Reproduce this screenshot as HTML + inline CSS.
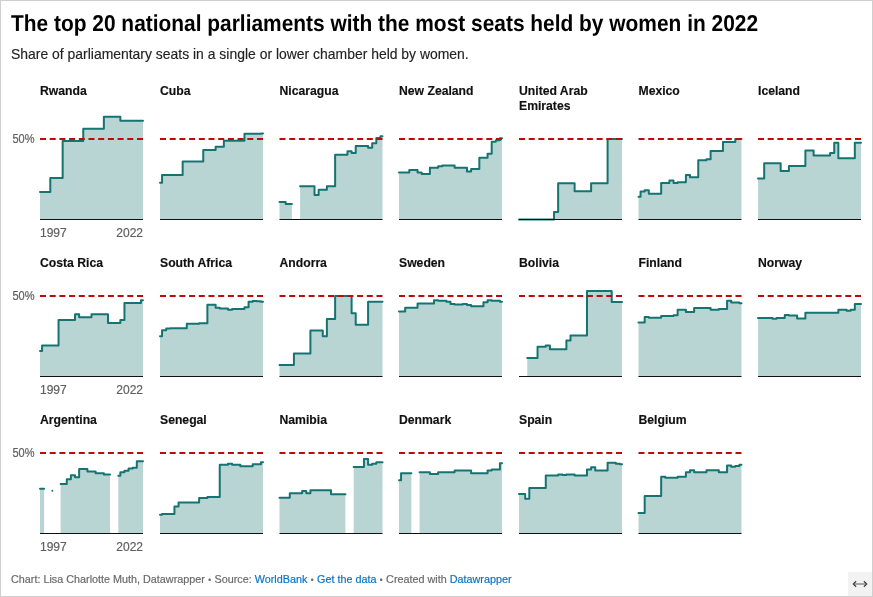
<!DOCTYPE html>
<html><head><meta charset="utf-8"><title>The top 20 national parliaments with the most seats held by women in 2022</title>
<style>
html,body{margin:0;padding:0;background:#fff}
body{width:873px;height:597px;position:relative;overflow:hidden;font-family:"Liberation Sans",sans-serif;color:#000}
.frame{position:absolute;left:0;top:0;width:871px;height:595px;border:1px solid #cfcfcf}
h1{position:absolute;left:11px;top:10px;margin:0;font-size:23px;line-height:26px;font-weight:700;white-space:nowrap;letter-spacing:0;transform-origin:0 0;transform:scale(0.909,1) skewX(0.05deg);color:#000}
.sub{position:absolute;left:11px;top:45px;font-size:14.5px;line-height:18px;white-space:nowrap;color:#222;-webkit-text-stroke:0.15px;transform-origin:0 0;transform:scaleX(0.961)}
svg{position:absolute;left:0;top:0}
.pt{position:absolute;font-size:12.2px;line-height:15px;font-weight:700;white-space:nowrap;color:#111;-webkit-text-stroke:0.15px}
.ax{position:absolute;font-size:12px;line-height:16px;color:#606060;-webkit-text-stroke:0.2px;white-space:nowrap}
.yl{left:0;width:34.6px;text-align:right;transform-origin:100% 50%;transform:scaleX(0.92)}
.foot{position:absolute;left:11px;top:571px;font-size:11.3px;line-height:16px;color:#6a6a6a;-webkit-text-stroke:0.2px;white-space:nowrap;transform-origin:0 0;transform:scaleX(0.956)}
.foot a{color:#0a74c4;text-decoration:none}
.foot b{display:inline-block;width:3.8px;text-align:center;font-size:8.5px;font-weight:400;vertical-align:0.4px}
.rs{position:absolute;left:848px;top:572px;width:24px;height:24px;background:#f2f2f2}
</style></head><body>
<div class="frame"></div>
<h1>The top 20 national parliaments with the most seats held by women in 2022</h1>
<div class="sub">Share of parliamentary seats in a single or lower chamber held by women.</div>
<svg width="873" height="597" viewBox="0 0 873 597">
<path d="M40,191.97H50.3V178.12H62.66V140.93H83.26V128.86H103.86V116.78H120.34V120.81H143V219.5H40Z" fill="#157472" fill-opacity="0.3"/>
<path d="M40,191.97H50.3V178.12H62.66V140.93H83.26V128.86H103.86V116.78H120.34V120.81H143" fill="none" stroke="#157472" stroke-width="2" stroke-linejoin="round" stroke-linecap="round"/>
<rect x="40" y="219" width="103" height="1" fill="#111"/>
<line x1="40" x2="143" y1="139" y2="139" stroke="#bd0a0a" stroke-width="2" stroke-dasharray="6 3.7"/>
<path d="M160,182.79H162.06V175.06H182.66V161.54H203.26V149.95H215.62V146.73H223.86V140.77H244.46V133.85H260.94V133.53H263V219.5H160Z" fill="#157472" fill-opacity="0.3"/>
<path d="M160,182.79H162.06V175.06H182.66V161.54H203.26V149.95H215.62V146.73H223.86V140.77H244.46V133.85H260.94V133.53H263" fill="none" stroke="#157472" stroke-width="2" stroke-linejoin="round" stroke-linecap="round"/>
<rect x="160" y="219" width="103" height="1" fill="#111"/>
<line x1="160" x2="263" y1="139" y2="139" stroke="#bd0a0a" stroke-width="2" stroke-dasharray="6 3.7"/>
<path d="M279.5,202.11H285.68V203.88H291.86V219.5H279.5Z" fill="#157472" fill-opacity="0.3"/>
<path d="M279.5,202.11H285.68V203.88H291.86" fill="none" stroke="#157472" stroke-width="2" stroke-linejoin="round" stroke-linecap="round"/>
<path d="M300.1,186.17H314.52V195.03H318.64V189.72H326.88V186.17H335.12V154.78H347.48V151.24H351.6V153.01H355.72V145.92H368.08V147.69H372.2V143.35H376.32V138.03H380.44V136.26H382.5V219.5H300.1Z" fill="#157472" fill-opacity="0.3"/>
<path d="M300.1,186.17H314.52V195.03H318.64V189.72H326.88V186.17H335.12V154.78H347.48V151.24H351.6V153.01H355.72V145.92H368.08V147.69H372.2V143.35H376.32V138.03H380.44V136.26H382.5" fill="none" stroke="#157472" stroke-width="2" stroke-linejoin="round" stroke-linecap="round"/>
<rect x="279.5" y="219" width="103" height="1" fill="#111"/>
<line x1="279.5" x2="382.5" y1="139" y2="139" stroke="#bd0a0a" stroke-width="2" stroke-dasharray="6 3.7"/>
<path d="M399,172.49H409.3V169.91H417.54V172.49H421.66V173.94H429.9V167.66H438.14V166.21H442.26V165.4H454.62V167.66H466.98V171.52H471.1V168.95H479.34V157.84H487.58V153.81H491.7V141.74H495.82V140.29H499.94V138.36H502V219.5H399Z" fill="#157472" fill-opacity="0.3"/>
<path d="M399,172.49H409.3V169.91H417.54V172.49H421.66V173.94H429.9V167.66H438.14V166.21H442.26V165.4H454.62V167.66H466.98V171.52H471.1V168.95H479.34V157.84H487.58V153.81H491.7V141.74H495.82V140.29H499.94V138.36H502" fill="none" stroke="#157472" stroke-width="2" stroke-linejoin="round" stroke-linecap="round"/>
<rect x="399" y="219" width="103" height="1" fill="#111"/>
<line x1="399" x2="502" y1="139" y2="139" stroke="#bd0a0a" stroke-width="2" stroke-dasharray="6 3.7"/>
<path d="M519,219.5H554.02V212.09H558.14V183.28H574.62V191.32H591.1V183.28H607.58V139H622V219.5H519Z" fill="#157472" fill-opacity="0.3"/>
<path d="M519,219.5H554.02V212.09H558.14V183.28H574.62V191.32H591.1V183.28H607.58V139H622" fill="none" stroke="#157472" stroke-width="2" stroke-linejoin="round" stroke-linecap="round"/>
<rect x="519" y="219" width="103" height="1" fill="#111"/>
<line x1="519" x2="622" y1="139" y2="139" stroke="#bd0a0a" stroke-width="2" stroke-dasharray="6 3.7"/>
<path d="M638.5,196.64H640.56V191.49H644.68V190.2H648.8V193.74H661.16V183.11H669.4V180.54H673.52V183.11H677.64V182.15H685.88V175.06H690V177.32H698.24V160.25H706.48V159.29H710.6V151.07H722.96V141.9H735.32V139H741.5V219.5H638.5Z" fill="#157472" fill-opacity="0.3"/>
<path d="M638.5,196.64H640.56V191.49H644.68V190.2H648.8V193.74H661.16V183.11H669.4V180.54H673.52V183.11H677.64V182.15H685.88V175.06H690V177.32H698.24V160.25H706.48V159.29H710.6V151.07H722.96V141.9H735.32V139H741.5" fill="none" stroke="#157472" stroke-width="2" stroke-linejoin="round" stroke-linecap="round"/>
<rect x="638.5" y="219" width="103" height="1" fill="#111"/>
<line x1="638.5" x2="741.5" y1="139" y2="139" stroke="#bd0a0a" stroke-width="2" stroke-dasharray="6 3.7"/>
<path d="M758,178.61H764.18V163.31H780.66V170.88H788.9V165.89H805.38V150.43H813.62V155.58H830.1V153.01H834.22V142.86H838.34V158.16H854.82V142.86H861V219.5H758Z" fill="#157472" fill-opacity="0.3"/>
<path d="M758,178.61H764.18V163.31H780.66V170.88H788.9V165.89H805.38V150.43H813.62V155.58H830.1V153.01H834.22V142.86H838.34V158.16H854.82V142.86H861" fill="none" stroke="#157472" stroke-width="2" stroke-linejoin="round" stroke-linecap="round"/>
<rect x="758" y="219" width="103" height="1" fill="#111"/>
<line x1="758" x2="861" y1="139" y2="139" stroke="#bd0a0a" stroke-width="2" stroke-dasharray="6 3.7"/>
<path d="M40,351.06H42.06V345.43H58.54V319.99H75.02V314.35H79.14V317.25H91.5V314.35H107.98V322.89H120.34V319.99H124.46V303.08H140.94V300.19H143V376.5H40Z" fill="#157472" fill-opacity="0.3"/>
<path d="M40,351.06H42.06V345.43H58.54V319.99H75.02V314.35H79.14V317.25H91.5V314.35H107.98V322.89H120.34V319.99H124.46V303.08H140.94V300.19H143" fill="none" stroke="#157472" stroke-width="2" stroke-linejoin="round" stroke-linecap="round"/>
<rect x="40" y="376" width="103" height="1" fill="#111"/>
<line x1="40" x2="143" y1="296" y2="296" stroke="#bd0a0a" stroke-width="2" stroke-dasharray="6 3.7"/>
<path d="M160,336.25H162.06V330.13H166.18V328.52H170.3V328.2H186.78V323.69H199.14V323.37H207.38V304.86H215.62V307.75H219.74V308.4H227.98V309.69H232.1V308.88H244.46V307.27H248.58V301.8H252.7V300.99H256.82V301.31H260.94V301.8H263V376.5H160Z" fill="#157472" fill-opacity="0.3"/>
<path d="M160,336.25H162.06V330.13H166.18V328.52H170.3V328.2H186.78V323.69H199.14V323.37H207.38V304.86H215.62V307.75H219.74V308.4H227.98V309.69H232.1V308.88H244.46V307.27H248.58V301.8H252.7V300.99H256.82V301.31H260.94V301.8H263" fill="none" stroke="#157472" stroke-width="2" stroke-linejoin="round" stroke-linecap="round"/>
<rect x="160" y="376" width="103" height="1" fill="#111"/>
<line x1="160" x2="263" y1="296" y2="296" stroke="#bd0a0a" stroke-width="2" stroke-dasharray="6 3.7"/>
<path d="M279.5,365.07H293.92V353.48H310.4V330.45H322.76V336.25H326.88V319.02H335.12V296H351.6V313.23H355.72V324.82H368.08V301.8H382.5V376.5H279.5Z" fill="#157472" fill-opacity="0.3"/>
<path d="M279.5,365.07H293.92V353.48H310.4V330.45H322.76V336.25H326.88V319.02H335.12V296H351.6V313.23H355.72V324.82H368.08V301.8H382.5" fill="none" stroke="#157472" stroke-width="2" stroke-linejoin="round" stroke-linecap="round"/>
<rect x="279.5" y="376" width="103" height="1" fill="#111"/>
<line x1="279.5" x2="382.5" y1="296" y2="296" stroke="#bd0a0a" stroke-width="2" stroke-dasharray="6 3.7"/>
<path d="M399,311.46H405.18V307.75H417.54V303.57H434.02V300.35H438.14V300.83H446.38V301.8H450.5V304.05H454.62V304.53H462.86V304.05H466.98V305.02H471.1V306.3H483.46V302.28H487.58V300.35H491.7V300.83H499.94V301.8H502V376.5H399Z" fill="#157472" fill-opacity="0.3"/>
<path d="M399,311.46H405.18V307.75H417.54V303.57H434.02V300.35H438.14V300.83H446.38V301.8H450.5V304.05H454.62V304.53H462.86V304.05H466.98V305.02H471.1V306.3H483.46V302.28H487.58V300.35H491.7V300.83H499.94V301.8H502" fill="none" stroke="#157472" stroke-width="2" stroke-linejoin="round" stroke-linecap="round"/>
<rect x="399" y="376" width="103" height="1" fill="#111"/>
<line x1="399" x2="502" y1="296" y2="296" stroke="#bd0a0a" stroke-width="2" stroke-dasharray="6 3.7"/>
<path d="M527.24,357.99H537.54V346.71H545.78V345.59H549.9V349.29H566.38V340.6H570.5V335.61H586.98V291.01H611.7V302.12H622V376.5H527.24Z" fill="#157472" fill-opacity="0.3"/>
<path d="M527.24,357.99H537.54V346.71H545.78V345.59H549.9V349.29H566.38V340.6H570.5V335.61H586.98V291.01H611.7V302.12H622" fill="none" stroke="#157472" stroke-width="2" stroke-linejoin="round" stroke-linecap="round"/>
<rect x="519" y="376" width="103" height="1" fill="#111"/>
<line x1="519" x2="622" y1="296" y2="296" stroke="#bd0a0a" stroke-width="2" stroke-dasharray="6 3.7"/>
<path d="M638.5,322.56H644.68V316.93H648.8V317.74H661.16V316.12H673.52V315.32H677.64V309.69H685.88V312.1H694.12V308.07H710.6V309.69H718.84V308.88H727.08V300.83H731.2V302.44H739.44V303.25H741.5V376.5H638.5Z" fill="#157472" fill-opacity="0.3"/>
<path d="M638.5,322.56H644.68V316.93H648.8V317.74H661.16V316.12H673.52V315.32H677.64V309.69H685.88V312.1H694.12V308.07H710.6V309.69H718.84V308.88H727.08V300.83H731.2V302.44H739.44V303.25H741.5" fill="none" stroke="#157472" stroke-width="2" stroke-linejoin="round" stroke-linecap="round"/>
<rect x="638.5" y="376" width="103" height="1" fill="#111"/>
<line x1="638.5" x2="741.5" y1="296" y2="296" stroke="#bd0a0a" stroke-width="2" stroke-dasharray="6 3.7"/>
<path d="M758,317.9H772.42V318.86H776.54V317.9H784.78V315H788.9V315.48H797.14V318.38H805.38V312.74H838.34V309.85H846.58V310.81H850.7V309.85H854.82V304.05H861V376.5H758Z" fill="#157472" fill-opacity="0.3"/>
<path d="M758,317.9H772.42V318.86H776.54V317.9H784.78V315H788.9V315.48H797.14V318.38H805.38V312.74H838.34V309.85H846.58V310.81H850.7V309.85H854.82V304.05H861" fill="none" stroke="#157472" stroke-width="2" stroke-linejoin="round" stroke-linecap="round"/>
<rect x="758" y="376" width="103" height="1" fill="#111"/>
<line x1="758" x2="861" y1="296" y2="296" stroke="#bd0a0a" stroke-width="2" stroke-dasharray="6 3.7"/>
<path d="M40,488.74H44.12V533.5H40Z" fill="#157472" fill-opacity="0.3"/>
<path d="M40,488.74H44.12" fill="none" stroke="#157472" stroke-width="2" stroke-linejoin="round" stroke-linecap="round"/>
<circle cx="52.36" cy="490.83" r="1" fill="#157472"/>
<path d="M60.6,484.07H66.78V479.24H70.9V475.22H75.02V477.15H79.14V469.1H87.38V471.51H95.62V473.29H103.86V474.57H110.04V533.5H60.6Z" fill="#157472" fill-opacity="0.3"/>
<path d="M60.6,484.07H66.78V479.24H70.9V475.22H75.02V477.15H79.14V469.1H87.38V471.51H95.62V473.29H103.86V474.57H110.04" fill="none" stroke="#157472" stroke-width="2" stroke-linejoin="round" stroke-linecap="round"/>
<path d="M118.28,475.86H120.34V472.16H124.46V470.87H128.58V468.62H132.7V467.65H136.82V461.37H143V533.5H118.28Z" fill="#157472" fill-opacity="0.3"/>
<path d="M118.28,475.86H120.34V472.16H124.46V470.87H128.58V468.62H132.7V467.65H136.82V461.37H143" fill="none" stroke="#157472" stroke-width="2" stroke-linejoin="round" stroke-linecap="round"/>
<rect x="40" y="533" width="103" height="1" fill="#111"/>
<line x1="40" x2="143" y1="453" y2="453" stroke="#bd0a0a" stroke-width="2" stroke-dasharray="6 3.7"/>
<path d="M160,514.66H162.06V514.02H174.42V506.61H178.54V502.59H199.14V498.08H207.38V496.95H219.74V464.75H227.98V463.79H232.1V464.75H240.34V466.2H252.7V464.27H260.94V462.34H263V533.5H160Z" fill="#157472" fill-opacity="0.3"/>
<path d="M160,514.66H162.06V514.02H174.42V506.61H178.54V502.59H199.14V498.08H207.38V496.95H219.74V464.75H227.98V463.79H232.1V464.75H240.34V466.2H252.7V464.27H260.94V462.34H263" fill="none" stroke="#157472" stroke-width="2" stroke-linejoin="round" stroke-linecap="round"/>
<rect x="160" y="533" width="103" height="1" fill="#111"/>
<line x1="160" x2="263" y1="453" y2="453" stroke="#bd0a0a" stroke-width="2" stroke-dasharray="6 3.7"/>
<path d="M279.5,497.76H289.8V493.25H302.16V491H306.28V493.25H310.4V490.19H331V494.22H345.42V533.5H279.5Z" fill="#157472" fill-opacity="0.3"/>
<path d="M279.5,497.76H289.8V493.25H302.16V491H306.28V493.25H310.4V490.19H331V494.22H345.42" fill="none" stroke="#157472" stroke-width="2" stroke-linejoin="round" stroke-linecap="round"/>
<path d="M353.66,467.01H363.96V459.12H368.08V464.75H372.2V463.79H376.32V462.34H382.5V533.5H353.66Z" fill="#157472" fill-opacity="0.3"/>
<path d="M353.66,467.01H363.96V459.12H368.08V464.75H372.2V463.79H376.32V462.34H382.5" fill="none" stroke="#157472" stroke-width="2" stroke-linejoin="round" stroke-linecap="round"/>
<rect x="279.5" y="533" width="103" height="1" fill="#111"/>
<line x1="279.5" x2="382.5" y1="453" y2="453" stroke="#bd0a0a" stroke-width="2" stroke-dasharray="6 3.7"/>
<path d="M399,480.37H401.06V473.29H411.36V533.5H399Z" fill="#157472" fill-opacity="0.3"/>
<path d="M399,480.37H401.06V473.29H411.36" fill="none" stroke="#157472" stroke-width="2" stroke-linejoin="round" stroke-linecap="round"/>
<path d="M419.6,472.32H429.9V474.09H438.14V472.32H454.62V470.55H471.1V473.29H487.58V470.55H491.7V469.58H499.94V463.3H502V533.5H419.6Z" fill="#157472" fill-opacity="0.3"/>
<path d="M419.6,472.32H429.9V474.09H438.14V472.32H454.62V470.55H471.1V473.29H487.58V470.55H491.7V469.58H499.94V463.3H502" fill="none" stroke="#157472" stroke-width="2" stroke-linejoin="round" stroke-linecap="round"/>
<rect x="399" y="533" width="103" height="1" fill="#111"/>
<line x1="399" x2="502" y1="453" y2="453" stroke="#bd0a0a" stroke-width="2" stroke-dasharray="6 3.7"/>
<path d="M519,493.89H525.18V498.72H529.3V487.94H545.78V475.54H558.14V474.57H562.26V475.06H566.38V474.57H574.62V475.54H586.98V469.58H591.1V467.33H595.22V470.55H607.58V462.66H615.82V463.63H619.94V464.27H622V533.5H519Z" fill="#157472" fill-opacity="0.3"/>
<path d="M519,493.89H525.18V498.72H529.3V487.94H545.78V475.54H558.14V474.57H562.26V475.06H566.38V474.57H574.62V475.54H586.98V469.58H591.1V467.33H595.22V470.55H607.58V462.66H615.82V463.63H619.94V464.27H622" fill="none" stroke="#157472" stroke-width="2" stroke-linejoin="round" stroke-linecap="round"/>
<rect x="519" y="533" width="103" height="1" fill="#111"/>
<line x1="519" x2="622" y1="453" y2="453" stroke="#bd0a0a" stroke-width="2" stroke-dasharray="6 3.7"/>
<path d="M638.5,513.05H644.68V495.99H661.16V476.67H665.28V477.63H677.64V476.67H685.88V472.32H690V470.23H694.12V472.32H706.48V470.23H718.84V472.32H727.08V465.56H731.2V466.69H735.32V465.88H739.44V464.75H741.5V533.5H638.5Z" fill="#157472" fill-opacity="0.3"/>
<path d="M638.5,513.05H644.68V495.99H661.16V476.67H665.28V477.63H677.64V476.67H685.88V472.32H690V470.23H694.12V472.32H706.48V470.23H718.84V472.32H727.08V465.56H731.2V466.69H735.32V465.88H739.44V464.75H741.5" fill="none" stroke="#157472" stroke-width="2" stroke-linejoin="round" stroke-linecap="round"/>
<rect x="638.5" y="533" width="103" height="1" fill="#111"/>
<line x1="638.5" x2="741.5" y1="453" y2="453" stroke="#bd0a0a" stroke-width="2" stroke-dasharray="6 3.7"/>
</svg>
<div class="pt" style="left:40px;top:84px">Rwanda</div>
<div class="pt" style="left:160px;top:84px">Cuba</div>
<div class="pt" style="left:279.5px;top:84px">Nicaragua</div>
<div class="pt" style="left:399px;top:84px">New Zealand</div>
<div class="pt" style="left:519px;top:84px">United Arab<br>Emirates</div>
<div class="pt" style="left:638.5px;top:84px">Mexico</div>
<div class="pt" style="left:758px;top:84px">Iceland</div>
<div class="pt" style="left:40px;top:256px">Costa Rica</div>
<div class="pt" style="left:160px;top:256px">South Africa</div>
<div class="pt" style="left:279.5px;top:256px">Andorra</div>
<div class="pt" style="left:399px;top:256px">Sweden</div>
<div class="pt" style="left:519px;top:256px">Bolivia</div>
<div class="pt" style="left:638.5px;top:256px">Finland</div>
<div class="pt" style="left:758px;top:256px">Norway</div>
<div class="pt" style="left:40px;top:413px">Argentina</div>
<div class="pt" style="left:160px;top:413px">Senegal</div>
<div class="pt" style="left:279.5px;top:413px">Namibia</div>
<div class="pt" style="left:399px;top:413px">Denmark</div>
<div class="pt" style="left:519px;top:413px">Spain</div>
<div class="pt" style="left:638.5px;top:413px">Belgium</div>
<div class="ax yl" style="top:131px">50%</div>
<div class="ax" style="left:40px;top:225px">1997</div>
<div class="ax" style="left:93px;width:50px;text-align:right;top:225px">2022</div>
<div class="ax yl" style="top:288px">50%</div>
<div class="ax" style="left:40px;top:382px">1997</div>
<div class="ax" style="left:93px;width:50px;text-align:right;top:382px">2022</div>
<div class="ax yl" style="top:445px">50%</div>
<div class="ax" style="left:40px;top:539px">1997</div>
<div class="ax" style="left:93px;width:50px;text-align:right;top:539px">2022</div>
<div class="foot">Chart: Lisa Charlotte Muth, Datawrapper <b>•</b> Source: <a>WorldBank</a> <b>•</b> <a>Get the data</a> <b>•</b> Created with <a>Datawrapper</a></div>
<div class="rs"><svg width="24" height="24" viewBox="0 0 24 24" style="position:static;display:block"><path d="M6.2 12H17.8" fill="none" stroke="#9c9c9c" stroke-width="1.8"/><path d="M8.1 9.2L5.3 12L8.1 14.8M15.9 9.2L18.7 12L15.9 14.8" fill="none" stroke="#444" stroke-width="1.3"/></svg></div>
</body></html>
